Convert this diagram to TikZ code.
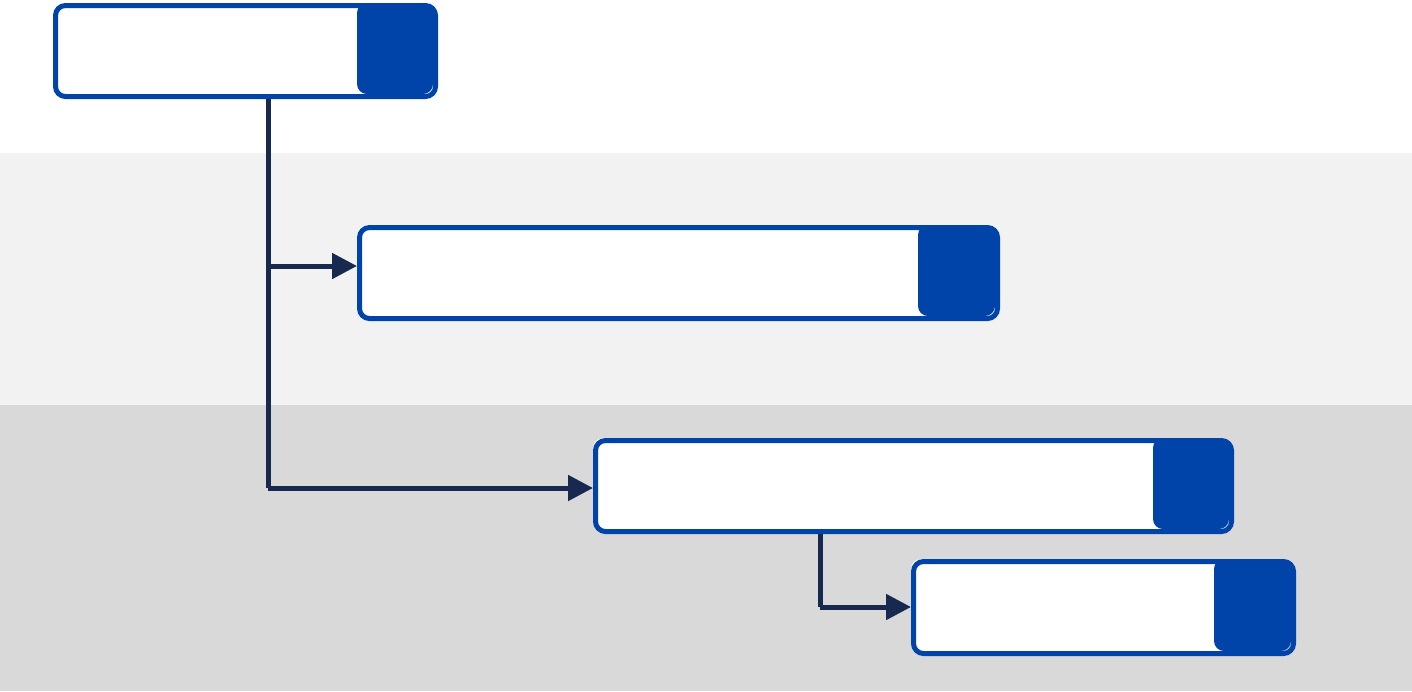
\documentclass[tikz,border=0pt]{standalone}
\usetikzlibrary{arrows.meta}
\definecolor{bblue}{HTML}{0044AA}
\definecolor{navy}{HTML}{17294F}
\definecolor{lg}{HTML}{F2F2F2}
\definecolor{dg}{HTML}{D9D9D9}
\begin{document}
\begin{tikzpicture}[x=0.02cm,y=-0.02cm,
  boxst/.style={draw=bblue,line width=0.1cm,rounded corners=0.2cm},
  tabst/.style={fill=bblue,rounded corners=0.2cm},
  conn/.style={draw=navy,line width=0.1cm},
  arr/.style={conn,-{Triangle[length=0.5cm,width=0.5cm]}}]
\useasboundingbox (0,0) rectangle (1412,691);
\fill[white] (0,0) rectangle (1412,153);
\fill[lg] (0,153) rectangle (1412,405);
\fill[dg] (0,405) rectangle (1412,691);
\newcommand\mybox[6]{%
  \fill[white,rounded corners=0.2cm] (#2,#4) rectangle (#5,#6);
  \fill[tabst] (#3,#4) rectangle (#5,#6);
  \node[boxst,inner sep=0pt,minimum width={(#5-#2)*0.02cm},minimum height={(#6-#4)*0.02cm},anchor=north west] (#1) at (#2,#4) {};
}
\mybox{a}{53}{357}{3}{433}{94}
\mybox{b}{357}{918}{225}{995}{316}
\mybox{c}{593}{1153}{438}{1229}{529}
\mybox{d}{911}{1214}{559}{1291}{651}
\coordinate (j1) at (268,266);
\coordinate (j2) at (268,488);
\coordinate (j3) at (820,607);
\draw[conn] (a.south -| j1) -- (j2);
\draw[arr] (j1) -- (j1 -| b.west);
\draw[arr] (j2) -- (j2 -| c.west);
\draw[conn] (c.south -| j3) -- (j3);
\draw[arr] (j3) -- (j3 -| d.west);
\end{tikzpicture}
\end{document}
